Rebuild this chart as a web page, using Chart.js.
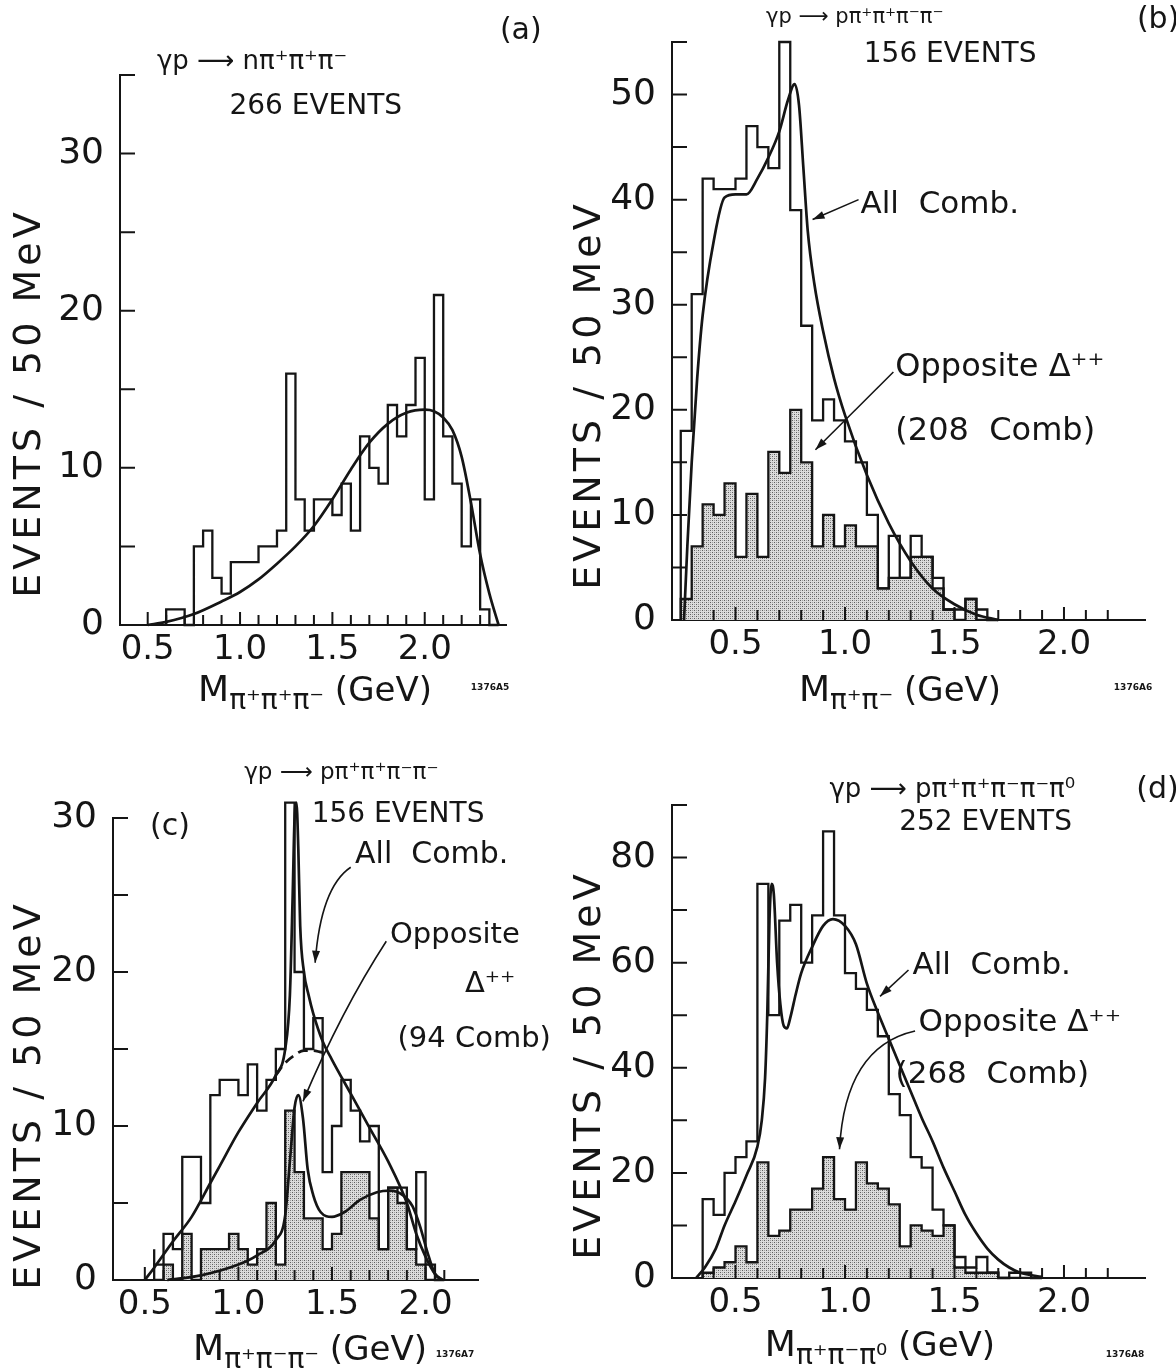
<!DOCTYPE html>
<html>
<head>
<meta charset="utf-8">
<title>Multi-pion mass spectra</title>
<script src="https://cdn.jsdelivr.net/npm/chart.js@4.4.1/dist/chart.umd.min.js"></script>
<style>
  body { margin: 0; background: #fff; }
  #page { position: relative; width: 1176px; height: 1370px; overflow: hidden; background: #fff; }
  .panel { position: absolute; }
</style>
</head>
<body>
<div id="page">
  <div class="panel" style="left:0;top:0;width:580px;height:715px"><canvas id="panelA"></canvas></div>
  <div class="panel" style="left:560px;top:0;width:616px;height:715px"><canvas id="panelB"></canvas></div>
  <div class="panel" style="left:0;top:700px;width:580px;height:670px"><canvas id="panelC"></canvas></div>
  <div class="panel" style="left:560px;top:700px;width:616px;height:670px"><canvas id="panelD"></canvas></div>
</div>
<script>
const binWidth = 0.05;
const xTickLabels = ['0.5', '1.0', '1.5', '2.0'];

// (a) gamma p -> n pi+ pi+ pi-
const aBinStart = 0.60;
const aCounts = [1, 1, 1, 0, 5, 6, 3, 2, 4, 4, 4, 5, 5, 6, 16, 8, 6, 8, 8, 7, 9, 6, 12, 10, 9, 14, 12, 14, 17, 8, 21, 12, 9, 5, 8, 1];
const aCurveX = [0.50, 0.60, 0.75, 0.90, 1.00, 1.10, 1.20, 1.30, 1.40, 1.50, 1.60, 1.70, 1.80, 1.90, 2.00, 2.05, 2.10, 2.15, 2.20, 2.25, 2.30, 2.35, 2.40];
const aCurveY = [0, 0.2, 0.7, 1.5, 2.1, 2.9, 3.9, 5.0, 6.3, 8.0, 9.9, 11.6, 12.8, 13.5, 13.7, 13.6, 13.2, 12.4, 10.7, 7.8, 4.5, 2.0, 0];
const aYTickLabels = [0, 10, 20, 30];

// (b) pi+ pi- mass, gamma p -> p pi+ pi+ pi- pi-
const bBinStart = 0.25;
const bAllComb = [9, 18, 31, 42, 41, 41, 42, 47, 45, 43, 55, 39, 28, 19, 21, 19, 17, 15, 10, 3, 8, 4, 8, 6, 4, 1, 1, 2, 1];
const bOpposite = [2, 2, 7, 11, 10, 13, 6, 12, 6, 16, 14, 20, 15, 7, 10, 7, 9, 7, 7, 3, 4, 4, 6, 6, 3, 1, 0, 2, 0];
const bCurveX = [0.265, 0.28, 0.30, 0.325, 0.35, 0.40, 0.45, 0.50, 0.55, 0.60, 0.65, 0.70, 0.74, 0.77, 0.79, 0.81, 0.83, 0.86, 0.90, 0.95, 1.00, 1.10, 1.20, 1.30, 1.40, 1.50, 1.60, 1.70];
const bCurveY = [0, 7, 15, 23, 29, 36, 40.2, 40.5, 40.5, 42, 44, 46.5, 49.5, 51, 49, 43, 37, 32, 27.5, 23, 19.5, 13.8, 9.2, 5.6, 3, 1.5, 0.5, 0];
const bYTickLabels = [0, 10, 20, 30, 40, 50];

// (c) pi+ pi- pi- mass, gamma p -> p pi+ pi+ pi- pi-
const cBinStart = 0.55;
const cAllComb = [2, 1, 3, 2, 8, 8, 5, 12, 13, 13, 12, 14, 11, 13, 15, 31, 20, 15, 17, 7, 10, 13, 11, 9, 10, 2, 6, 6, 2, 7, 1];
const cOpposite = [0, 0, 1, 0, 3, 0, 2, 2, 2, 3, 2, 1, 2, 5, 1, 11, 7, 4, 4, 2, 3, 7, 7, 7, 4, 2, 6, 5, 2, 1, 0];
const cCurveX = [0.50, 0.55, 0.65, 0.75, 0.85, 0.90, 1.00, 1.10, 1.20, 1.25, 1.275, 1.29, 1.30, 1.31, 1.32, 1.33, 1.35, 1.375, 1.40, 1.45, 1.50, 1.60, 1.70, 1.80, 1.90, 1.95, 2.00, 2.05, 2.09];
const cCurveY = [0, 0.8, 2.5, 4.1, 6.3, 7.4, 9.6, 11.5, 13.3, 15.0, 18.5, 25, 30, 31, 28, 23, 20, 18.5, 17.3, 15.5, 14.3, 12.1, 9.9, 7.7, 5, 3, 1.5, 0.4, 0];
const cDashX = [1.20, 1.25, 1.30, 1.35, 1.40, 1.44, 1.48];
const cDashY = [13.3, 14.1, 14.6, 14.9, 14.9, 14.8, 14.7];
const cOppCurveX = [0.62, 0.80, 1.00, 1.10, 1.20, 1.25, 1.275, 1.30, 1.32, 1.345, 1.37, 1.40, 1.44, 1.50, 1.565, 1.65, 1.74, 1.81, 1.88, 1.93, 1.97, 2.01, 2.05, 2.09];
const cOppCurveY = [0, 0.3, 1.0, 1.6, 2.6, 4.2, 7.7, 11.2, 12, 10.5, 7.2, 5.5, 4.4, 4.1, 4.4, 5.2, 5.7, 5.8, 5.5, 4.8, 3.5, 1.8, 0.4, 0];
const cYTickLabels = [0, 10, 20, 30];

// (d) pi+ pi- pi0 mass, gamma p -> p pi+ pi+ pi- pi- pi0
const dBinStart = 0.35;
const dAllComb = [2, 15, 12, 20, 23, 26, 75, 50, 68, 71, 60, 69, 85, 69, 58, 55, 51, 46, 35, 31, 23, 21, 13, 10, 4, 2, 4, 1, 0, 1, 1];
const dOpposite = [0, 1, 2, 3, 6, 3, 22, 8, 9, 13, 13, 17, 23, 15, 13, 22, 18, 17, 14, 6, 10, 9, 8, 10, 2, 1, 1, 1, 0, 0, 0];
const dCurveX = [0.32, 0.36, 0.41, 0.45, 0.50, 0.55, 0.60, 0.62, 0.635, 0.645, 0.655, 0.665, 0.675, 0.69, 0.705, 0.72, 0.735, 0.75, 0.775, 0.80, 0.85, 0.90, 0.945, 1.00, 1.05, 1.10, 1.15, 1.20, 1.25, 1.30, 1.35, 1.40, 1.45, 1.50, 1.55, 1.60, 1.65, 1.70, 1.75, 1.80, 1.90];
const dCurveY = [0, 2, 5.6, 10, 14.6, 19.5, 25, 30, 38, 50, 68, 75, 73, 60, 52, 48, 47.5, 49.5, 54, 58, 63, 67, 68.3, 67, 63.5, 56, 50.5, 45.5, 40.5, 35.5, 30.5, 26, 21, 16.5, 12, 8.5, 5.6, 3.5, 2, 1, 0.2];
const dYTickLabels = [0, 20, 40, 60, 80];

const ink = '#151515';
const family = '"DejaVu Sans", sans-serif';
Chart.defaults.font.family = family;
Chart.defaults.color = ink;

// dotted grey fill like the shaded histograms
const stipple = (() => {
  const c = document.createElement('canvas');
  c.width = 4; c.height = 4;
  const g = c.getContext('2d');
  g.fillStyle = '#dcdcdc'; g.fillRect(0, 0, 4, 4);
  g.fillStyle = '#5e5e5e'; g.fillRect(0, 0, 1, 1); g.fillRect(2, 2, 1, 1);
  g.fillStyle = '#a0a0a0'; g.fillRect(2, 0, 1, 1); g.fillRect(0, 2, 1, 1);
  return g.createPattern(c, 'repeat');
})();

function histogram(start, counts) {
  const pts = [{ x: start, y: 0 }];
  counts.forEach((c, i) => pts.push({ x: start + i * binWidth, y: c }));
  pts.push({ x: start + counts.length * binWidth, y: 0 });
  return pts;
}
const curve = (xs, ys) => xs.map((x, i) => ({ x, y: ys[i] }));

const outline = data => ({ data, stepped: 'after', borderColor: ink, borderWidth: 2.3, fill: false, order: 2, clip: false });
const shaded = data => ({ data, stepped: 'after', borderColor: ink, borderWidth: 2.3, backgroundColor: stipple, fill: 'origin', order: 3 });
const smooth = (data, dash) => ({ data, borderColor: ink, borderWidth: 2.7, cubicInterpolationMode: 'monotone', borderDash: dash || [], fill: false, order: 1, clip: false });

const onTenth = v => Math.abs(v * 10 - Math.round(v * 10)) < 1e-6;
function xLabel(v) {
  const s = v.toFixed(1);
  return onTenth(v) && xTickLabels.includes(s) ? s : '';
}

const decor = {
  id: 'decor',
  afterDatasetsDraw(chart, args, o) {
    const { ctx, chartArea: area, scales: { x, y } } = chart;
    const px = v => x.getPixelForValue(v);
    const py = v => y.getPixelForValue(v);
    ctx.save();
    ctx.strokeStyle = ink;
    ctx.fillStyle = ink;

    // tick marks pointing into the plot
    ctx.lineWidth = 2;
    ctx.beginPath();
    x.ticks.forEach(t => {
      if (!onTenth(t.value) || t.value < o.xTickFrom - 1e-6 || t.value > o.xTickTo + 1e-6) return;
      const len = Math.round(t.value * 10) % 5 === 0 ? 13 : 10;
      ctx.moveTo(px(t.value), area.bottom);
      ctx.lineTo(px(t.value), area.bottom - len);
    });
    y.ticks.forEach(t => {
      if (t.value === 0) return;
      ctx.moveTo(area.left, py(t.value));
      ctx.lineTo(area.left + 15, py(t.value));
    });
    ctx.stroke();

    // annotations
    ctx.textBaseline = 'middle';
    o.texts.forEach(tx => {
      ctx.font = `${tx.size}px ${family}`;
      ctx.textAlign = tx.align || 'center';
      ctx.fillText(tx.t, px(tx.x), py(tx.y));
    });

    ctx.lineWidth = 1.6;
    o.arrows.forEach(a => {
      const x0 = px(a.from[0]), y0 = py(a.from[1]);
      const x1 = px(a.to[0]), y1 = py(a.to[1]);
      let cx = x0, cy = y0;
      ctx.beginPath();
      ctx.moveTo(x0, y0);
      if (a.via) {
        cx = px(a.via[0]); cy = py(a.via[1]);
        ctx.quadraticCurveTo(cx, cy, x1, y1);
      } else {
        ctx.lineTo(x1, y1);
      }
      ctx.stroke();
      const ang = Math.atan2(y1 - cy, x1 - cx);
      const c = Math.cos(ang), s = Math.sin(ang);
      ctx.beginPath();
      ctx.moveTo(x1, y1);
      ctx.lineTo(x1 - 12 * c + 4 * s, y1 - 12 * s - 4 * c);
      ctx.lineTo(x1 - 12 * c - 4 * s, y1 - 12 * s + 4 * c);
      ctx.closePath();
      ctx.fill();
    });

    // x title with subscript
    const parts = o.xTitle.parts;
    let total = 0;
    parts.forEach(p => { ctx.font = `${p[1]}px ${family}`; total += ctx.measureText(p[0]).width; });
    let cur = o.xTitle.x - total / 2;
    ctx.textAlign = 'left';
    ctx.textBaseline = 'alphabetic';
    parts.forEach(p => {
      ctx.font = `${p[1]}px ${family}`;
      ctx.fillText(p[0], cur, o.xTitle.y + p[2]);
      cur += ctx.measureText(p[0]).width;
    });

    // y title
    ctx.save();
    ctx.translate(o.yTitle.x, o.yTitle.y);
    ctx.rotate(-Math.PI / 2);
    ctx.font = `38px ${family}`;
    ctx.letterSpacing = '4px';
    ctx.textAlign = 'center';
    ctx.textBaseline = 'middle';
    ctx.fillText('EVENTS / 50 MeV', 0, 0);
    ctx.restore();

    // plate number
    ctx.font = `bold 9px ${family}`;
    ctx.textAlign = 'center';
    ctx.fillText(o.code.t, o.code.x, o.code.y);
    ctx.restore();
  }
};

function drawPanel(id, cfg) {
  new Chart(document.getElementById(id), {
    type: 'line',
    data: { datasets: cfg.datasets },
    options: {
      responsive: true,
      maintainAspectRatio: false,
      animation: false,
      events: [],
      layout: { padding: cfg.padding },
      elements: { point: { radius: 0 } },
      plugins: { legend: { display: false }, tooltip: { enabled: false }, decor: cfg.decor },
      scales: {
        x: {
          type: 'linear', min: cfg.xMin, max: cfg.xMax,
          grid: { display: false, drawTicks: false },
          border: { color: ink, width: 2 },
          ticks: { stepSize: 0.1, autoSkip: false, maxRotation: 0, padding: 5, font: { size: 34 }, callback: v => xLabel(v) },
          afterFit: s => { s.height = 60; }
        },
        y: {
          min: 0, max: cfg.yMax,
          grid: { display: false, drawTicks: false },
          border: { color: ink, width: 2 },
          ticks: { stepSize: cfg.yStep, autoSkip: false, padding: 16, font: { size: 36 },
            callback: v => cfg.yLabels.includes(v) ? String(v) : '' },
          afterFit: s => { s.width = 70; }
        }
      }
    },
    plugins: [decor]
  });
}

drawPanel('panelA', {
  padding: { left: 50, right: 74, top: 75, bottom: 30 },
  xMin: 0.35, xMax: 2.44, yMax: 35, yStep: 5, yLabels: aYTickLabels,
  datasets: [outline(histogram(aBinStart, aCounts)), smooth(curve(aCurveX, aCurveY))],
  decor: {
    xTickFrom: 0.5, xTickTo: 2.4,
    texts: [
      { t: '(a)', x: 2.52, y: 37.8, size: 30 },
      { t: 'γp ⟶ nπ⁺π⁺π⁻', x: 1.065, y: 35.8, size: 26 },
      { t: '266 EVENTS', x: 1.41, y: 33.0, size: 28 }
    ],
    arrows: [],
    xTitle: { x: 315, y: 701, parts: [['M', 36, 0], ['π⁺π⁺π⁻', 28, 8], [' (GeV)', 34, 0]] },
    yTitle: { x: 30, y: 403 },
    code: { t: '1376A5', x: 490, y: 690 }
  }
});

drawPanel('panelB', {
  padding: { left: 42, right: 31, top: 42, bottom: 35 },
  xMin: 0.21, xMax: 2.37, yMax: 55, yStep: 5, yLabels: bYTickLabels,
  datasets: [shaded(histogram(bBinStart, bOpposite)), outline(histogram(bBinStart, bAllComb)), smooth(curve(bCurveX, bCurveY))],
  decor: {
    xTickFrom: 0.3, xTickTo: 2.3,
    texts: [
      { t: '(b)', x: 2.43, y: 57.1, size: 30 },
      { t: 'γp ⟶ pπ⁺π⁺π⁻π⁻', x: 1.045, y: 57.3, size: 21 },
      { t: '156 EVENTS', x: 1.48, y: 53.8, size: 28 },
      { t: 'All  Comb.', x: 1.071, y: 39.5, size: 31, align: 'left' },
      { t: 'Opposite Δ⁺⁺', x: 1.23, y: 24.0, size: 32, align: 'left' },
      { t: '(208  Comb)', x: 1.23, y: 17.9, size: 32, align: 'left' }
    ],
    arrows: [
      { from: [1.062, 40.0], to: [0.852, 38.1] },
      { from: [1.221, 23.6], to: [0.865, 16.2] }
    ],
    xTitle: { x: 340, y: 701, parts: [['M', 36, 0], ['π⁺π⁻', 28, 8], [' (GeV)', 34, 0]] },
    yTitle: { x: 30, y: 395 },
    code: { t: '1376A6', x: 573, y: 690 }
  }
});

drawPanel('panelC', {
  padding: { left: 43, right: 102, top: 118, bottom: 30 },
  xMin: 0.33, xMax: 2.28, yMax: 30, yStep: 5, yLabels: cYTickLabels,
  datasets: [
    shaded(histogram(cBinStart, cOpposite)),
    outline(histogram(cBinStart, cAllComb)),
    smooth(curve(cCurveX, cCurveY)),
    smooth(curve(cDashX, cDashY), [10, 6]),
    smooth(curve(cOppCurveX, cOppCurveY))
  ],
  decor: {
    xTickFrom: 0.5, xTickTo: 2.1,
    texts: [
      { t: '(c)', x: 0.634, y: 29.4, size: 30 },
      { t: 'γp ⟶ pπ⁺π⁺π⁻π⁻', x: 1.55, y: 32.9, size: 23 },
      { t: '156 EVENTS', x: 1.853, y: 30.2, size: 28 },
      { t: 'All  Comb.', x: 1.623, y: 27.6, size: 30, align: 'left' },
      { t: 'Opposite', x: 1.81, y: 22.4, size: 29, align: 'left' },
      { t: 'Δ⁺⁺', x: 2.21, y: 19.2, size: 29, align: 'left' },
      { t: '(94 Comb)', x: 1.85, y: 15.6, size: 29, align: 'left' }
    ],
    arrows: [
      { from: [1.60, 26.8], via: [1.44, 25.5], to: [1.41, 20.6] },
      { from: [1.79, 22.0], via: [1.55, 17.5], to: [1.345, 11.6] }
    ],
    xTitle: { x: 310, y: 660, parts: [['M', 36, 0], ['π⁺π⁻π⁻', 28, 8], [' (GeV)', 34, 0]] },
    yTitle: { x: 30, y: 395 },
    code: { t: '1376A7', x: 455, y: 657 }
  }
});

drawPanel('panelD', {
  padding: { left: 42, right: 31, top: 105, bottom: 32 },
  xMin: 0.21, xMax: 2.37, yMax: 90, yStep: 10, yLabels: dYTickLabels,
  datasets: [shaded(histogram(dBinStart, dOpposite)), outline(histogram(dBinStart, dAllComb)), smooth(curve(dCurveX, dCurveY))],
  decor: {
    xTickFrom: 0.3, xTickTo: 2.3,
    texts: [
      { t: '(d)', x: 2.427, y: 92.8, size: 30 },
      { t: 'γp ⟶ pπ⁺π⁺π⁻π⁻π⁰', x: 1.49, y: 92.8, size: 26 },
      { t: '252 EVENTS', x: 1.642, y: 86.7, size: 28 },
      { t: 'All  Comb.', x: 1.308, y: 59.3, size: 31, align: 'left' },
      { t: 'Opposite Δ⁺⁺', x: 1.336, y: 48.5, size: 31, align: 'left' },
      { t: '(268  Comb)', x: 1.231, y: 38.6, size: 31, align: 'left' }
    ],
    arrows: [
      { from: [1.29, 58.6], to: [1.16, 53.6] },
      { from: [1.32, 47.0], via: [1.00, 44.0], to: [0.975, 24.5] }
    ],
    xTitle: { x: 320, y: 656, parts: [['M', 36, 0], ['π⁺π⁻π⁰', 28, 8], [' (GeV)', 34, 0]] },
    yTitle: { x: 30, y: 365 },
    code: { t: '1376A8', x: 565, y: 657 }
  }
});
</script>
</body>
</html>
